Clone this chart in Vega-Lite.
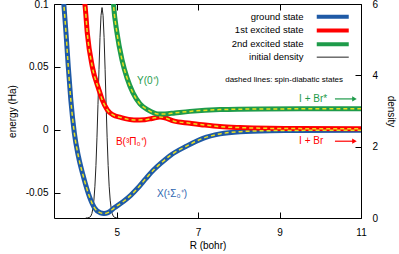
{
  "$schema": "https://vega.github.io/schema/vega-lite/v6.json",
  "width": 307,
  "height": 214,
  "autosize": "none",
  "padding": {"left": 54, "top": 4, "right": 38, "bottom": 36},
  "config": {
    "font": "Liberation Sans",
    "view": {"stroke": "black", "strokeWidth": 1},
    "axis": {"domain": false, "grid": false, "tickSize": -6, "tickColor": "black", "tickWidth": 1, "labelColor": "black", "labelFontSize": 10, "titleFontSize": 10, "titleFontWeight": "normal", "titleColor": "black", "labelOverlap": false, "labelFlush": false},
    "legend": {"labelFontSize": 9.5, "labelColor": "black"}
  },
  "datasets": {
    "curves": [
      {"state": "ground state", "R": 3.693, "E": 0.1032},
      {"state": "ground state", "R": 3.703, "E": 0.0992},
      {"state": "ground state", "R": 3.755, "E": 0.077},
      {"state": "ground state", "R": 3.811, "E": 0.05},
      {"state": "ground state", "R": 3.873, "E": 0.0238},
      {"state": "ground state", "R": 3.959, "E": -0.0024},
      {"state": "ground state", "R": 4.062, "E": -0.0214},
      {"state": "ground state", "R": 4.184, "E": -0.0373},
      {"state": "ground state", "R": 4.332, "E": -0.0532},
      {"state": "ground state", "R": 4.455, "E": -0.0619},
      {"state": "ground state", "R": 4.602, "E": -0.0659},
      {"state": "ground state", "R": 4.688, "E": -0.0664},
      {"state": "ground state", "R": 4.786, "E": -0.0657},
      {"state": "ground state", "R": 4.933, "E": -0.0621},
      {"state": "ground state", "R": 5.179, "E": -0.0565},
      {"state": "ground state", "R": 5.35, "E": -0.0518},
      {"state": "ground state", "R": 5.506, "E": -0.0466},
      {"state": "ground state", "R": 5.72, "E": -0.0385},
      {"state": "ground state", "R": 5.916, "E": -0.0315},
      {"state": "ground state", "R": 6.11, "E": -0.0258},
      {"state": "ground state", "R": 6.309, "E": -0.0205},
      {"state": "ground state", "R": 6.726, "E": -0.0127},
      {"state": "ground state", "R": 7.119, "E": -0.0067},
      {"state": "ground state", "R": 7.537, "E": -0.0032},
      {"state": "ground state", "R": 8.03, "E": -0.0014},
      {"state": "ground state", "R": 8.76, "E": -0.0006},
      {"state": "ground state", "R": 9.5, "E": -0.0004},
      {"state": "ground state", "R": 11.0, "E": -0.0003},
      {"state": "1st excited state", "R": 4.204, "E": 0.1032},
      {"state": "1st excited state", "R": 4.221, "E": 0.0992},
      {"state": "1st excited state", "R": 4.278, "E": 0.0768},
      {"state": "1st excited state", "R": 4.401, "E": 0.0502},
      {"state": "1st excited state", "R": 4.565, "E": 0.0317},
      {"state": "1st excited state", "R": 4.646, "E": 0.0238},
      {"state": "1st excited state", "R": 4.769, "E": 0.0159},
      {"state": "1st excited state", "R": 4.909, "E": 0.0119},
      {"state": "1st excited state", "R": 5.098, "E": 0.0099},
      {"state": "1st excited state", "R": 5.425, "E": 0.0079},
      {"state": "1st excited state", "R": 5.695, "E": 0.0081},
      {"state": "1st excited state", "R": 5.867, "E": 0.0091},
      {"state": "1st excited state", "R": 6.063, "E": 0.0103},
      {"state": "1st excited state", "R": 6.21, "E": 0.0093},
      {"state": "1st excited state", "R": 6.39, "E": 0.0071},
      {"state": "1st excited state", "R": 6.8, "E": 0.0053},
      {"state": "1st excited state", "R": 7.17, "E": 0.0038},
      {"state": "1st excited state", "R": 7.537, "E": 0.0026},
      {"state": "1st excited state", "R": 8.03, "E": 0.0018},
      {"state": "1st excited state", "R": 8.76, "E": 0.0012},
      {"state": "1st excited state", "R": 9.5, "E": 0.001},
      {"state": "1st excited state", "R": 11.0, "E": 0.0009},
      {"state": "2nd excited state", "R": 4.914, "E": 0.1032},
      {"state": "2nd excited state", "R": 4.921, "E": 0.1},
      {"state": "2nd excited state", "R": 5.007, "E": 0.077},
      {"state": "2nd excited state", "R": 5.13, "E": 0.0556},
      {"state": "2nd excited state", "R": 5.253, "E": 0.0413},
      {"state": "2nd excited state", "R": 5.4, "E": 0.0294},
      {"state": "2nd excited state", "R": 5.572, "E": 0.0206},
      {"state": "2nd excited state", "R": 5.768, "E": 0.0159},
      {"state": "2nd excited state", "R": 6.014, "E": 0.0127},
      {"state": "2nd excited state", "R": 6.186, "E": 0.0127},
      {"state": "2nd excited state", "R": 6.43, "E": 0.0135},
      {"state": "2nd excited state", "R": 6.8, "E": 0.0147},
      {"state": "2nd excited state", "R": 7.537, "E": 0.0161},
      {"state": "2nd excited state", "R": 8.52, "E": 0.0166},
      {"state": "2nd excited state", "R": 9.5, "E": 0.0167},
      {"state": "2nd excited state", "R": 11.0, "E": 0.0167}
    ],
    "density": [
      {"state": "initial density", "R": 4.24, "D": 0},
      {"state": "initial density", "R": 4.29, "D": 0.003},
      {"state": "initial density", "R": 4.34, "D": 0.023},
      {"state": "initial density", "R": 4.365, "D": 0.055},
      {"state": "initial density", "R": 4.39, "D": 0.125},
      {"state": "initial density", "R": 4.415, "D": 0.26},
      {"state": "initial density", "R": 4.44, "D": 0.5},
      {"state": "initial density", "R": 4.465, "D": 0.89},
      {"state": "initial density", "R": 4.49, "D": 1.47},
      {"state": "initial density", "R": 4.515, "D": 2.25},
      {"state": "initial density", "R": 4.54, "D": 3.18},
      {"state": "initial density", "R": 4.565, "D": 4.17},
      {"state": "initial density", "R": 4.59, "D": 5.06},
      {"state": "initial density", "R": 4.615, "D": 5.68},
      {"state": "initial density", "R": 4.64, "D": 5.9},
      {"state": "initial density", "R": 4.665, "D": 5.68},
      {"state": "initial density", "R": 4.69, "D": 5.06},
      {"state": "initial density", "R": 4.715, "D": 4.17},
      {"state": "initial density", "R": 4.74, "D": 3.18},
      {"state": "initial density", "R": 4.765, "D": 2.25},
      {"state": "initial density", "R": 4.79, "D": 1.47},
      {"state": "initial density", "R": 4.815, "D": 0.89},
      {"state": "initial density", "R": 4.84, "D": 0.5},
      {"state": "initial density", "R": 4.865, "D": 0.26},
      {"state": "initial density", "R": 4.89, "D": 0.125},
      {"state": "initial density", "R": 4.915, "D": 0.055},
      {"state": "initial density", "R": 4.94, "D": 0.023},
      {"state": "initial density", "R": 4.99, "D": 0.003},
      {"state": "initial density", "R": 5.04, "D": 0}
    ],
    "labels": [
      {"group": "green", "text": "Y(0⁺)", "R": 5.5, "E": 0.0392},
      {"group": "green", "text": "I + Br*", "R": 9.48, "E": 0.0246},
      {"group": "red", "text": "B(³Π₀⁺)", "R": 4.98, "E": -0.0093},
      {"group": "red", "text": "I + Br", "R": 9.48, "E": -0.009},
      {"group": "blue", "text": "X(¹Σ₀⁺)", "R": 5.99, "E": -0.0508},
      {"group": "note", "text": "dashed lines: spin-diabatic states", "R": 10.56, "E": 0.0397}
    ],
    "arrows": [
      {"group": "green", "R": 10.36, "R2": 10.84, "E": 0.0246},
      {"group": "red", "R": 10.36, "R2": 10.84, "E": -0.009}
    ]
  },
  "layer": [
    {
      "data": {"name": "density"},
      "mark": {"type": "line", "clip": true, "strokeWidth": 1},
      "encoding": {
        "x": {"field": "R", "type": "quantitative", "scale": {"domain": [3.46, 11], "nice": false, "zero": false},
              "axis": {"orient": "top", "values": [5, 7, 9, 11], "labels": false, "title": null, "ticks": true, "tickSize": -6, "tickColor": "black", "tickWidth": 1}},
        "y": {"field": "D", "type": "quantitative", "scale": {"domain": [0, 6], "nice": false, "zero": false},
              "axis": {"orient": "right", "values": [0, 2, 4, 6], "title": "density", "labelPadding": 17, "titlePadding": 8}},
        "color": {"field": "state", "type": "nominal",
          "scale": {"domain": ["ground state", "1st excited state", "2nd excited state", "initial density"], "range": ["#1f5aa6", "#ff0000", "#1e9b4a", "#222222"]}}
      }
    },
    {
      "data": {"name": "curves"},
      "mark": {"type": "line", "interpolate": "monotone", "clip": true, "strokeWidth": 5},
      "encoding": {
        "x": {"field": "R", "type": "quantitative", "scale": {"domain": [3.46, 11], "nice": false, "zero": false},
              "axis": {"orient": "bottom", "values": [5, 7, 9, 11], "title": "R (bohr)", "labelPadding": 15, "titlePadding": 3}},
        "y": {"field": "E", "type": "quantitative", "scale": {"domain": [-0.07, 0.1], "nice": false, "zero": false},
              "axis": {"orient": "left", "values": [-0.05, 0, 0.05, 0.1], "title": "energy (Ha)", "labelPadding": 12, "titlePadding": 8,
                       "labelExpr": "datum.value < 0 ? '-' + format(-datum.value, '~g') : format(datum.value, '~g')"}},
        "color": {"field": "state", "type": "nominal",
          "scale": {"domain": ["ground state", "1st excited state", "2nd excited state", "initial density"], "range": ["#1f5aa6", "#ff0000", "#1e9b4a", "#222222"]},
          "legend": {"orient": "none", "legendX": 248, "legendY": 8, "title": null, "labelAlign": "right", "labelOffset": -34, "symbolOffset": 26, "symbolSize": 4, "symbolType": "M-16,0H16", "rowPadding": -3.3, "padding": 0,
            "encode": {"symbols": {"update": {"strokeWidth": {"signal": "datum.value === 'initial density' ? 1 : 4"}, "fill": {"value": "transparent"}}}}}}
      }
    },
    {
      "data": {"name": "curves"},
      "mark": {"type": "line", "interpolate": "monotone", "clip": true, "color": "#e8e020", "strokeWidth": 1.5, "strokeDash": [4, 3]},
      "encoding": {
        "x": {"field": "R", "type": "quantitative", "scale": {"domain": [3.46, 11], "nice": false, "zero": false}, "axis": null},
        "y": {"field": "E", "type": "quantitative", "scale": {"domain": [-0.07, 0.1], "nice": false, "zero": false}, "axis": null},
        "detail": {"field": "state"}
      }
    },
    {
      "data": {"name": "labels"},
      "transform": [{"filter": "datum.group === 'green'"}],
      "mark": {"type": "text", "align": "left", "baseline": "middle", "fontSize": 10, "color": "#1e9b4a"},
      "encoding": {
        "x": {"field": "R", "type": "quantitative", "scale": {"domain": [3.46, 11], "nice": false, "zero": false}, "axis": null},
        "y": {"field": "E", "type": "quantitative", "scale": {"domain": [-0.07, 0.1], "nice": false, "zero": false}, "axis": null},
        "text": {"field": "text"}
      }
    },
    {
      "data": {"name": "labels"},
      "transform": [{"filter": "datum.group === 'red'"}],
      "mark": {"type": "text", "align": "left", "baseline": "middle", "fontSize": 10, "color": "#ff0000"},
      "encoding": {
        "x": {"field": "R", "type": "quantitative", "scale": {"domain": [3.46, 11], "nice": false, "zero": false}, "axis": null},
        "y": {"field": "E", "type": "quantitative", "scale": {"domain": [-0.07, 0.1], "nice": false, "zero": false}, "axis": null},
        "text": {"field": "text"}
      }
    },
    {
      "data": {"name": "labels"},
      "transform": [{"filter": "datum.group === 'blue'"}],
      "mark": {"type": "text", "align": "left", "baseline": "middle", "fontSize": 10, "color": "#2c64b0"},
      "encoding": {
        "x": {"field": "R", "type": "quantitative", "scale": {"domain": [3.46, 11], "nice": false, "zero": false}, "axis": null},
        "y": {"field": "E", "type": "quantitative", "scale": {"domain": [-0.07, 0.1], "nice": false, "zero": false}, "axis": null},
        "text": {"field": "text"}
      }
    },
    {
      "data": {"name": "labels"},
      "transform": [{"filter": "datum.group === 'note'"}],
      "mark": {"type": "text", "align": "right", "baseline": "middle", "fontSize": 8, "color": "black"},
      "encoding": {
        "x": {"field": "R", "type": "quantitative", "scale": {"domain": [3.46, 11], "nice": false, "zero": false}, "axis": null},
        "y": {"field": "E", "type": "quantitative", "scale": {"domain": [-0.07, 0.1], "nice": false, "zero": false}, "axis": null},
        "text": {"field": "text"}
      }
    },
    {
      "data": {"name": "arrows"},
      "transform": [{"filter": "datum.group === 'green'"}],
      "mark": {"type": "rule", "strokeWidth": 1.2, "color": "#1e9b4a"},
      "encoding": {
        "x": {"field": "R", "type": "quantitative", "scale": {"domain": [3.46, 11], "nice": false, "zero": false}, "axis": null},
        "x2": {"field": "R2"},
        "y": {"field": "E", "type": "quantitative", "scale": {"domain": [-0.07, 0.1], "nice": false, "zero": false}, "axis": null}
      }
    },
    {
      "data": {"name": "arrows"},
      "transform": [{"filter": "datum.group === 'red'"}],
      "mark": {"type": "rule", "strokeWidth": 1.2, "color": "#ff0000"},
      "encoding": {
        "x": {"field": "R", "type": "quantitative", "scale": {"domain": [3.46, 11], "nice": false, "zero": false}, "axis": null},
        "x2": {"field": "R2"},
        "y": {"field": "E", "type": "quantitative", "scale": {"domain": [-0.07, 0.1], "nice": false, "zero": false}, "axis": null}
      }
    },
    {
      "data": {"name": "arrows"},
      "transform": [{"filter": "datum.group === 'green'"}],
      "mark": {"type": "point", "shape": "triangle-right", "filled": true, "size": 28, "opacity": 1, "color": "#1e9b4a"},
      "encoding": {
        "x": {"field": "R2", "type": "quantitative", "scale": {"domain": [3.46, 11], "nice": false, "zero": false}, "axis": null},
        "y": {"field": "E", "type": "quantitative", "scale": {"domain": [-0.07, 0.1], "nice": false, "zero": false}, "axis": null}
      }
    },
    {
      "data": {"name": "arrows"},
      "transform": [{"filter": "datum.group === 'red'"}],
      "mark": {"type": "point", "shape": "triangle-right", "filled": true, "size": 28, "opacity": 1, "color": "#ff0000"},
      "encoding": {
        "x": {"field": "R2", "type": "quantitative", "scale": {"domain": [3.46, 11], "nice": false, "zero": false}, "axis": null},
        "y": {"field": "E", "type": "quantitative", "scale": {"domain": [-0.07, 0.1], "nice": false, "zero": false}, "axis": null}
      }
    }
  ],
  "resolve": {"scale": {"x": "independent", "y": "independent"}, "axis": {"x": "independent", "y": "independent"}}
}
